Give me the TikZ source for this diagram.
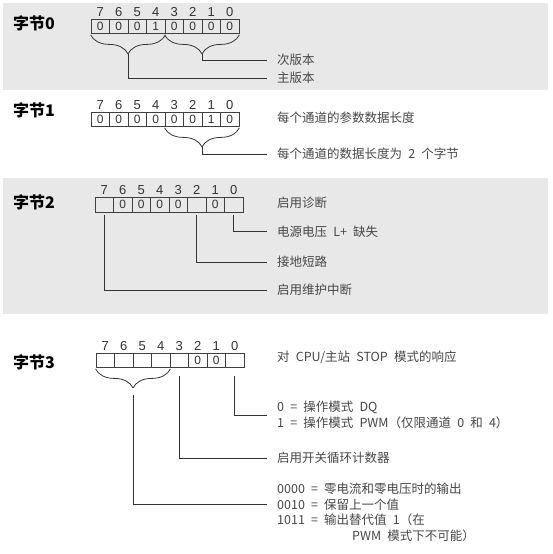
\documentclass[tikz,border=0pt]{standalone}
\usepackage{fontspec}
\setmainfont{Liberation Sans}
\newfontfamily\cjk[WordSpace=2.2]{Noto Sans CJK SC}
\usetikzlibrary{calc,decorations.pathreplacing}

\begin{document}
\begin{tikzpicture}[x=1pt, y=-1pt, label distance=2pt,
                band/.style={fill=black!9, draw=none},
                title/.style={anchor=west, inner sep=0pt, font=\cjk\bfseries\fontsize{16}{18}\selectfont},
                cell/.style={rectangle, draw=black!75, line width=0.8pt, minimum width=18.5pt,
                minimum height=14pt, inner sep=0pt, font=\fontsize{12}{14}\selectfont, text=black!80},
                tall/.style={minimum height=15pt},
                bitno/.style={inner sep=0pt, font=\fontsize{13}{14}\selectfont, text=black!80},
                lbl/.style={anchor=west, inner sep=0pt, align=left, font=\cjk\fontsize{12.5}{16}\selectfont, text=black!72},
                link/.style={draw=black!80, line width=0.8pt},
                lead/.style={link, shorten >=10pt},
                brace/.style={link, decorate, decoration={brace, mirror, amplitude=19pt, raise=1pt}}
            ]
        \useasboundingbox (0,0) rectangle (552,554);
        \fill[band] (3,3) rectangle (548,90);
        \fill[band] (3,178) rectangle (548,314);

        % Byte 0
        \node[title] (t0) at (13,23) {字节0};
        \node[cell, label={[bitno]above:7}] (c0b7) at (100.25,26.5) {0};
        \node[cell, label={[bitno]above:6}] (c0b6) at (118.75,26.5) {0};
        \node[cell, label={[bitno]above:5}] (c0b5) at (137.25,26.5) {0};
        \node[cell, label={[bitno]above:4}] (c0b4) at (155.75,26.5) {1};
        \node[cell, label={[bitno]above:3}] (c0b3) at (174.25,26.5) {0};
        \node[cell, label={[bitno]above:2}] (c0b2) at (192.75,26.5) {0};
        \node[cell, label={[bitno]above:1}] (c0b1) at (211.25,26.5) {0};
        \node[cell, label={[bitno]above:0}] (c0b0) at (229.75,26.5) {0};
        \node[lbl] (minor) at (277,60) {次版本};
        \node[lbl] (major) at (277,78) {主版本};

        \draw[brace] (c0b7.south west) -- (c0b4.south east);
        \draw[brace] (c0b3.south west) -- (c0b0.south east);
        \coordinate (hi0) at ($(c0b7.south west)!.5!(c0b4.south east)+(0,20)$);
        \coordinate (lo0) at ($(c0b3.south west)!.5!(c0b0.south east)+(0,20)$);
        \draw[lead] (lo0) |- (minor.west);
        \draw[lead] (hi0) |- (major.west);

        % Byte 1
        \node[title] (t1) at (13,110) {字节1};
        \node[cell, label={[bitno]above:7}] (c1b7) at (100.25,119.5) {0};
        \node[cell, label={[bitno]above:6}] (c1b6) at (118.75,119.5) {0};
        \node[cell, label={[bitno]above:5}] (c1b5) at (137.25,119.5) {0};
        \node[cell, label={[bitno]above:4}] (c1b4) at (155.75,119.5) {0};
        \node[cell, label={[bitno]above:3}] (c1b3) at (174.25,119.5) {0};
        \node[cell, label={[bitno]above:2}] (c1b2) at (192.75,119.5) {0};
        \node[cell, label={[bitno]above:1}] (c1b1) at (211.25,119.5) {1};
        \node[cell, label={[bitno]above:0}] (c1b0) at (229.75,119.5) {0};
        \node[lbl] (plen) at (277,118) {每个通道的参数数据长度};
        \node[lbl] (dlen) at (277,154) {每个通道的数据长度为 2 个字节};

        \draw[brace] (c1b3.south west) -- (c1b0.south east);
        \coordinate (lo1) at ($(c1b3.south west)!.5!(c1b0.south east)+(0,20)$);
        \draw[lead] (lo1) |- (dlen.west);

        % Byte 2
        \node[title] (t2) at (13,202) {字节2};
        \node[cell, tall, label={[bitno]above:7}] (c2b7) at (104.25,204.5) {};
        \node[cell, tall, label={[bitno]above:6}] (c2b6) at (122.75,204.5) {0};
        \node[cell, tall, label={[bitno]above:5}] (c2b5) at (141.25,204.5) {0};
        \node[cell, tall, label={[bitno]above:4}] (c2b4) at (159.75,204.5) {0};
        \node[cell, tall, label={[bitno]above:3}] (c2b3) at (178.25,204.5) {0};
        \node[cell, tall, label={[bitno]above:2}] (c2b2) at (196.75,204.5) {};
        \node[cell, tall, label={[bitno]above:1}] (c2b1) at (215.25,204.5) {0};
        \node[cell, tall, label={[bitno]above:0}] (c2b0) at (233.75,204.5) {};
        \node[lbl] (diag)  at (277,203)   {启用诊断};
        \node[lbl] (nolp)  at (277,231.5) {电源电压 L+ 缺失};
        \node[lbl] (gnd)   at (277,262)   {接地短路};
        \node[lbl] (maint) at (277,290)   {启用维护中断};

        \draw[lead, shorten <=3pt] (c2b0.south) |- (nolp.west);
        \draw[lead, shorten <=3pt] (c2b2.south) |- (gnd.west);
        \draw[lead, shorten <=3pt] (c2b7.south) |- (maint.west);

        % Byte 3
        \node[title] (t3) at (13,362) {字节3};
        \node[cell, label distance=4pt, label={[bitno]above:7}] (c3b7) at (105.25,360.5) {};
        \node[cell, label distance=4pt, label={[bitno]above:6}] (c3b6) at (123.75,360.5) {};
        \node[cell, label distance=4pt, label={[bitno]above:5}] (c3b5) at (142.25,360.5) {};
        \node[cell, label distance=4pt, label={[bitno]above:4}] (c3b4) at (160.75,360.5) {};
        \node[cell, label distance=4pt, label={[bitno]above:3}] (c3b3) at (179.25,360.5) {};
        \node[cell, label distance=4pt, label={[bitno]above:2}] (c3b2) at (197.75,360.5) {0};
        \node[cell, label distance=4pt, label={[bitno]above:1}] (c3b1) at (216.25,360.5) {0};
        \node[cell, label distance=4pt, label={[bitno]above:0}] (c3b0) at (234.75,360.5) {};
        \node[lbl] (stop) at (277,357) {对 CPU/主站 STOP 模式的响应};
        \node[lbl] (mode) at (277,415) {0 = 操作模式 DQ\\1 = 操作模式 PWM（仅限通道 0 和 4）};
        \node[lbl] (cnt)  at (277,458) {启用开关循环计数器};
        \node[lbl] (sub0) at (277,489) {0000 = 零电流和零电压时的输出};
        \node[lbl] (sub1) at (277,504.5) {0010 = 保留上一个值};
        \node[lbl] (sub2) at (277,520) {1011 = 输出替代值 1（在};
        \node[lbl] (sub3) at (352,536) {PWM 模式下不可能）};

        \draw[brace] (c3b7.south west) -- (c3b4.south east);
        \coordinate (hi3) at ($(c3b7.south west)!.5!(c3b4.south east)+(0,20)$);
        \draw[lead, shorten <=8pt] (c3b0.south) |- (mode.west);
        \draw[lead, shorten <=8pt] (c3b3.south) |- (cnt.west);
        \draw[lead, shorten <=7pt] (hi3) |- (sub1.west);
            \end{tikzpicture}
\end{document}
